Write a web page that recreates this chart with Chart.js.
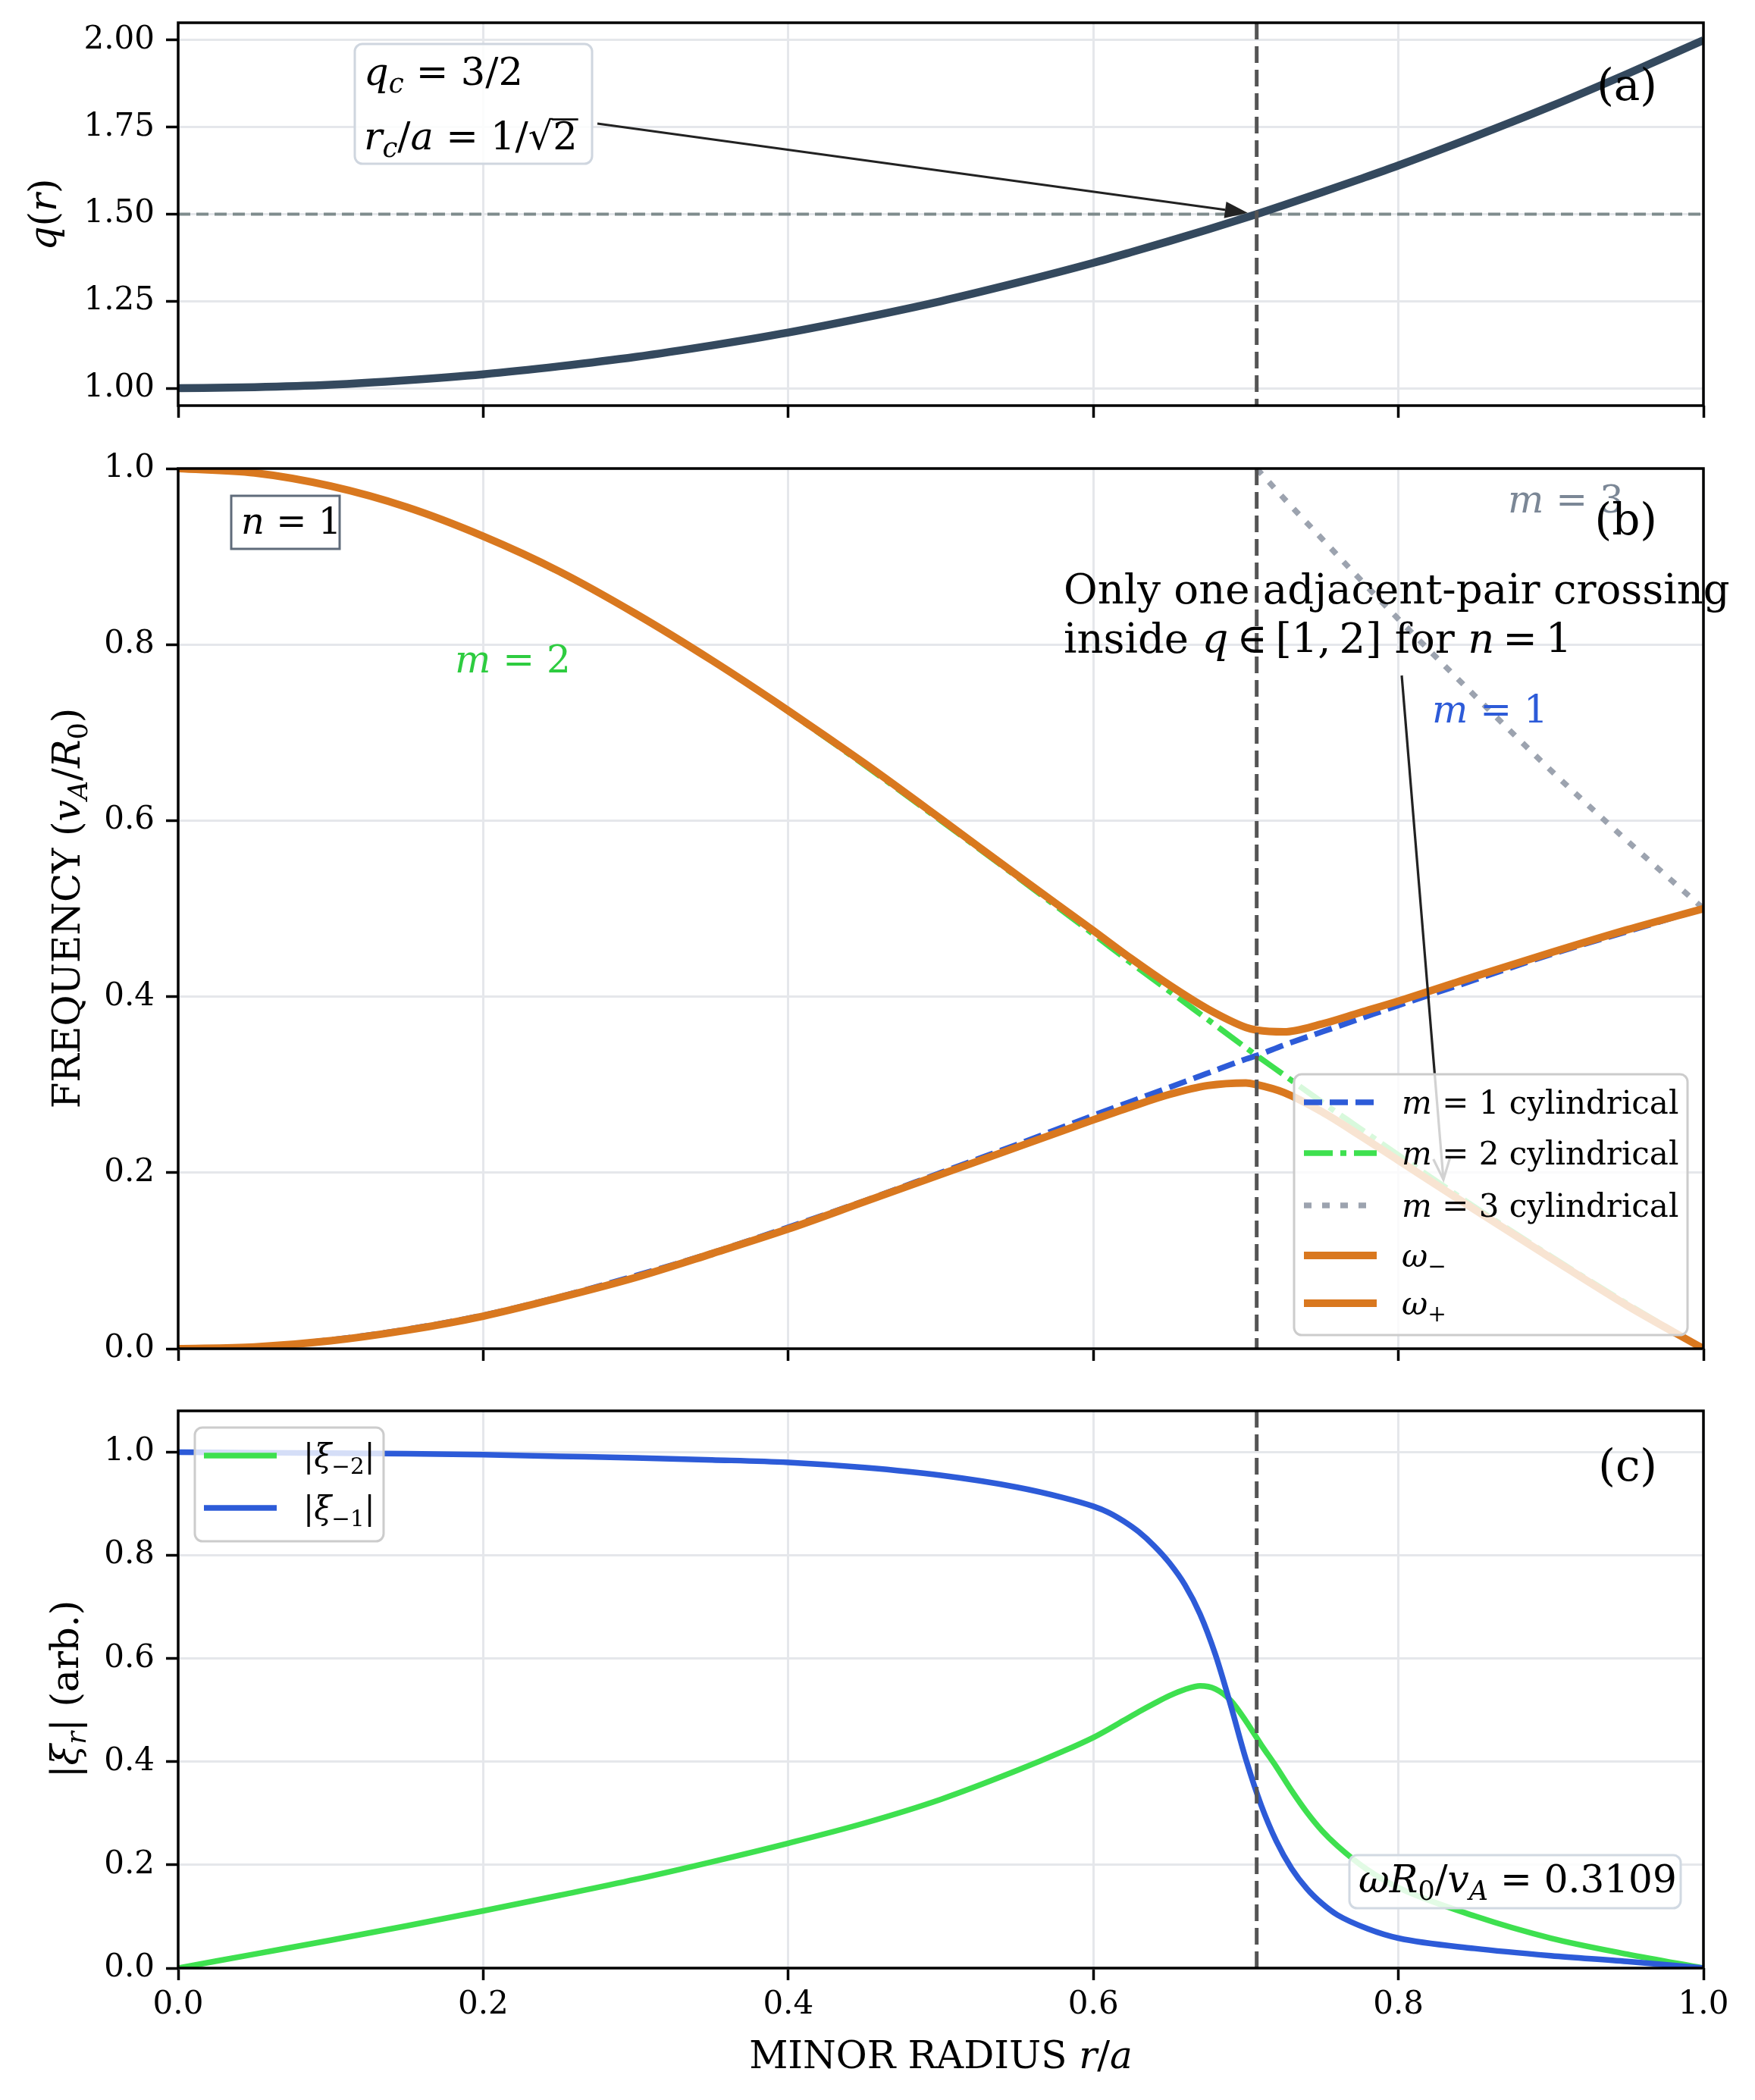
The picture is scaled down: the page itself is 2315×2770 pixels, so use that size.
<!DOCTYPE html>
<html>
<head>
<meta charset="utf-8">
<script src="https://cdn.jsdelivr.net/npm/chart.js@4.4.1/dist/chart.umd.min.js"></script>
<style>
  html, body { margin: 0; padding: 0; background: #fff; }
  #page { position: relative; width: 2315px; height: 2770px; }
  .panel { position: absolute; left: 0; width: 2315px; }
</style>
</head>
<body>
<div id="page">
  <div class="panel" style="top:0;height:560px"><canvas id="chartQ"></canvas></div>
  <div class="panel" style="top:560px;height:1240px"><canvas id="chartFreq"></canvas></div>
  <div class="panel" style="top:1800px;height:970px"><canvas id="chartXi"></canvas></div>
</div>
<script>
// ---- data ----
const radius = [0, 0.05, 0.1, 0.15, 0.2, 0.25, 0.3, 0.35, 0.4, 0.45, 0.5, 0.55, 0.6, 0.625, 0.65, 0.675, 0.7, 0.7071, 0.725, 0.75, 0.775, 0.8, 0.85, 0.9, 0.95, 1.0];
const qProfile = [1.000, 1.003, 1.010, 1.023, 1.040, 1.063, 1.090, 1.123, 1.160, 1.203, 1.250, 1.303, 1.360, 1.391, 1.423, 1.456, 1.490, 1.500, 1.526, 1.563, 1.601, 1.640, 1.723, 1.810, 1.903, 2.000];
const freqM1 = [0.000, 0.002, 0.010, 0.022, 0.038, 0.059, 0.083, 0.109, 0.138, 0.168, 0.200, 0.232, 0.265, 0.281, 0.297, 0.313, 0.329, 0.333, 0.345, 0.360, 0.375, 0.390, 0.419, 0.448, 0.474, 0.500];
const freqM2 = [1.000, 0.995, 0.980, 0.956, 0.923, 0.882, 0.835, 0.782, 0.724, 0.663, 0.600, 0.536, 0.471, 0.438, 0.406, 0.374, 0.342, 0.333, 0.311, 0.280, 0.250, 0.220, 0.161, 0.105, 0.051, 0.000];
const freqM3 = [null, null, null, null, null, null, null, null, null, null, null, null, null, null, null, null, null, 1.000, 0.966, 0.920, 0.874, 0.829, 0.742, 0.657, 0.577, 0.500];
const omegaPlus = [1.000, 0.995, 0.980, 0.956, 0.923, 0.883, 0.835, 0.782, 0.725, 0.665, 0.602, 0.538, 0.475, 0.443, 0.413, 0.386, 0.365, 0.362, 0.360, 0.369, 0.382, 0.395, 0.423, 0.450, 0.476, 0.500];
const omegaMinus = [0.000, 0.002, 0.009, 0.021, 0.037, 0.058, 0.081, 0.108, 0.136, 0.167, 0.198, 0.229, 0.260, 0.275, 0.289, 0.299, 0.302, 0.300, 0.291, 0.269, 0.242, 0.214, 0.158, 0.103, 0.049, 0.000];

const xiRadius = [0, 0.05, 0.1, 0.15, 0.2, 0.25, 0.3, 0.35, 0.4, 0.45, 0.5, 0.55, 0.58, 0.6, 0.61, 0.62, 0.63, 0.64, 0.65, 0.66, 0.67, 0.68, 0.69, 0.7, 0.71, 0.72, 0.73, 0.74, 0.75, 0.76, 0.78, 0.8, 0.85, 0.9, 0.95, 1.0];
const xiMinus2 = [0.000, 0.027, 0.054, 0.082, 0.111, 0.141, 0.172, 0.206, 0.242, 0.281, 0.327, 0.383, 0.420, 0.447, 0.463, 0.480, 0.497, 0.513, 0.528, 0.540, 0.547, 0.541, 0.519, 0.479, 0.433, 0.390, 0.344, 0.302, 0.266, 0.237, 0.190, 0.156, 0.101, 0.058, 0.027, 0.000];
const xiMinus1 = [1.000, 0.999, 0.998, 0.997, 0.995, 0.992, 0.989, 0.985, 0.980, 0.970, 0.955, 0.932, 0.912, 0.895, 0.883, 0.866, 0.845, 0.818, 0.785, 0.743, 0.686, 0.608, 0.510, 0.405, 0.316, 0.246, 0.193, 0.154, 0.125, 0.103, 0.076, 0.058, 0.038, 0.024, 0.013, 0.000];

const radiusTicks = [0, 0.2, 0.4, 0.6, 0.8, 1.0];
const qTicks = [1.0, 1.25, 1.5, 1.75, 2.0];
const freqTicks = [0, 0.2, 0.4, 0.6, 0.8, 1.0];
const xiTicks = [0, 0.2, 0.4, 0.6, 0.8, 1.0];

const criticalRadius = 0.7071;
const criticalQ = 1.5;
const eigenFreq = '0.3109';

// ---- styling ----
const SERIF = '"DejaVu Serif", serif';
const GRID = '#e5e7eb';
const ORANGE = '#d9781f', BLUE = '#2d5bd8', GREEN = '#3ee04f', GREY = '#9ca3af', NAVY = '#34495e';
const THIN = '\u2009';
Chart.defaults.font.family = SERIF;
Chart.defaults.color = '#000';

function pts(xs, ys) {
  const out = [];
  xs.forEach((x, i) => { if (ys[i] !== null) out.push({ x: x, y: ys[i] }); });
  return out;
}

function line(label, xs, ys, color, width, dash, order, legendText) {
  return {
    label, data: pts(xs, ys), borderColor: color, borderWidth: width, borderDash: dash || [],
    pointRadius: 0, fill: false, cubicInterpolationMode: 'monotone', borderJoinStyle: 'round',
    order, legendText
  };
}

function xAxis(showLabels, height) {
  return {
    type: 'linear', min: 0, max: 1,
    afterBuildTicks: s => { s.ticks = radiusTicks.map(v => ({ value: v })); },
    afterFit: s => { s.height = height; s.paddingLeft = 0; s.paddingRight = 0; },
    grid: { color: GRID, lineWidth: 3, tickColor: '#000', tickWidth: 3.5, tickLength: 16 },
    border: { display: false },
    ticks: { display: showLabels, padding: 8, font: { size: 42 }, callback: v => v.toFixed(1) }
  };
}

function yAxis(min, max, ticks, digits) {
  return {
    type: 'linear', min, max,
    afterBuildTicks: s => { s.ticks = ticks.map(v => ({ value: v })); },
    afterFit: s => { s.width = 235; s.paddingTop = 0; s.paddingBottom = 0; },
    grid: { color: GRID, lineWidth: 3, tickColor: '#000', tickWidth: 3.5, tickLength: 16 },
    border: { display: false },
    ticks: { padding: 15, font: { size: 42 }, callback: v => v.toFixed(digits) }
  };
}

// rich text: segments [text, style] where style has i (italic), s (subscript), b (overbar)
function segFont(st, size) {
  const s = st.includes('s') ? size * 0.7 : size;
  return (st.includes('i') ? 'italic ' : '') + s.toFixed(1) + 'px ' + SERIF;
}
function richWidth(ctx, segs, size) {
  let w = 0;
  for (const [t, st = ''] of segs) { ctx.font = segFont(st, size); w += ctx.measureText(t).width; }
  return w;
}
function drawRich(ctx, segs, x, y, size, color, align) {
  const w = richWidth(ctx, segs, size);
  let cx = align === 'center' ? x - w / 2 : align === 'right' ? x - w : x;
  ctx.save();
  ctx.fillStyle = color || '#000';
  ctx.textAlign = 'left';
  ctx.textBaseline = 'alphabetic';
  for (const [t, st = ''] of segs) {
    ctx.font = segFont(st, size);
    const dy = st.includes('s') ? size * 0.2 : 0;
    ctx.fillText(t, cx, y + dy);
    const sw = ctx.measureText(t).width;
    if (st.includes('b')) ctx.fillRect(cx - 1, y - size * 0.8, sw + 2, size * 0.05);
    cx += sw;
  }
  ctx.restore();
}
function drawRotated(ctx, segs, x, y, size) {
  ctx.save();
  ctx.translate(x, y);
  ctx.rotate(-Math.PI / 2);
  drawRich(ctx, segs, 0, 0, size, '#000', 'center');
  ctx.restore();
}

function roundBox(ctx, x, y, w, h, r, fill, stroke, lw) {
  ctx.save();
  ctx.beginPath();
  ctx.roundRect(x, y, w, h, r);
  ctx.fillStyle = fill; ctx.fill();
  ctx.strokeStyle = stroke; ctx.lineWidth = lw || 3; ctx.setLineDash([]); ctx.stroke();
  ctx.restore();
}

function frame(ctx, ca) {
  ctx.save();
  ctx.strokeStyle = '#000'; ctx.lineWidth = 3.5; ctx.setLineDash([]);
  ctx.strokeRect(ca.left, ca.top, ca.right - ca.left, ca.bottom - ca.top);
  ctx.restore();
}

function vline(ctx, c) {
  const x = c.scales.x.getPixelForValue(criticalRadius), ca = c.chartArea;
  ctx.save();
  ctx.strokeStyle = '#555'; ctx.lineWidth = 5; ctx.setLineDash([22, 9]);
  ctx.beginPath(); ctx.moveTo(x, ca.top); ctx.lineTo(x, ca.bottom); ctx.stroke();
  ctx.restore();
}

function arrow(ctx, x0, y0, x1, y1, filled, shrink) {
  const ang = Math.atan2(y1 - y0, x1 - x0);
  x1 -= shrink * Math.cos(ang); y1 -= shrink * Math.sin(ang);
  const L = filled ? 30 : 28, W = 22;
  const bx = x1 - L * Math.cos(ang), by = y1 - L * Math.sin(ang);
  const px = -Math.sin(ang) * W / 2, py = Math.cos(ang) * W / 2;
  ctx.save();
  ctx.strokeStyle = ctx.fillStyle = '#222'; ctx.lineWidth = 3.2; ctx.setLineDash([]);
  ctx.beginPath(); ctx.moveTo(x0, y0); ctx.lineTo(filled ? bx : x1, filled ? by : y1); ctx.stroke();
  ctx.beginPath(); ctx.moveTo(bx + px, by + py); ctx.lineTo(x1, y1); ctx.lineTo(bx - px, by - py);
  if (filled) { ctx.closePath(); ctx.fill(); } else ctx.stroke();
  ctx.restore();
}

function legend(ctx, c, box, rowsY, hx0, hx1, tx, size) {
  roundBox(ctx, box[0], box[1], box[2], box[3], 10, 'rgba(255,255,255,0.8)', '#cccccc', 3);
  c.data.datasets.forEach((ds, i) => {
    const y = rowsY[i];
    ctx.save();
    ctx.strokeStyle = ds.borderColor; ctx.lineWidth = ds.borderWidth; ctx.setLineDash(ds.borderDash || []);
    ctx.beginPath(); ctx.moveTo(hx0, y); ctx.lineTo(hx1, y); ctx.stroke();
    ctx.restore();
    drawRich(ctx, ds.legendText, tx, y + size * 0.36, size, '#000');
  });
}

function makeChart(id, canvasTop, padTop, xHeight, showX, yCfg, datasets, hooks) {
  const Y = v => v - canvasTop;
  return new Chart(document.getElementById(id), {
    type: 'line',
    data: { datasets },
    options: {
      responsive: true, maintainAspectRatio: false, animation: false, devicePixelRatio: 1, events: [],
      layout: { padding: { top: padTop, right: 68, left: 0, bottom: 0 } },
      plugins: { legend: { display: false }, tooltip: { enabled: false } },
      scales: { x: xAxis(showX, xHeight), y: yCfg }
    },
    plugins: [{
      id: 'overlay',
      beforeDatasetsDraw: c => { if (hooks.before) hooks.before(c, c.ctx, Y); },
      afterDatasetsDraw: c => hooks.after(c, c.ctx, Y)
    }]
  });
}

// ---- (a) safety factor ----
makeChart('chartQ', 0, 30, 25, false, yAxis(0.95, 2.05, qTicks, 2),
  [line('q(r)', radius, qProfile, NAVY, 10.5, null, 0, [])],
  {
    before(c, ctx) {
      const y = c.scales.y.getPixelForValue(criticalQ), ca = c.chartArea;
      ctx.save();
      ctx.strokeStyle = '#7f8c8d'; ctx.lineWidth = 4; ctx.setLineDash([16, 8]);
      ctx.beginPath(); ctx.moveTo(ca.left, y); ctx.lineTo(ca.right, y); ctx.stroke();
      ctx.restore();
    },
    after(c, ctx, Y) {
      vline(ctx, c);
      frame(ctx, c.chartArea);
      roundBox(ctx, 468, Y(58), 313, 158, 10, 'rgba(255,255,255,0.85)', '#cfd6df', 3);
      drawRich(ctx, [['q', 'i'], ['c', 'is'], [' = 3/2']], 480, Y(112), 51);
      drawRich(ctx, [['r', 'i'], ['c', 'is'], ['/'], ['a', 'i'], [' = 1/'], ['√'], ['2', 'b']], 480, Y(197), 51);
      arrow(ctx, 788, Y(163), c.scales.x.getPixelForValue(criticalRadius), c.scales.y.getPixelForValue(criticalQ), true, 12);
      drawRich(ctx, [['(a)']], 2186, Y(132), 58, '#000', 'right');
      drawRotated(ctx, [['q', 'i'], ['('], ['r', 'i'], [')']], 74, Y(283), 50);
    }
  });

// ---- (b) continuum frequencies ----
makeChart('chartFreq', 560, 58, 21, false, yAxis(0, 1, freqTicks, 1),
  [
    line('m=1 cylindrical', radius, freqM1, BLUE, 7.5, [24, 10], 5, [['m', 'i'], [' = 1 cylindrical']]),
    line('m=2 cylindrical', radius, freqM2, GREEN, 7.5, [38, 10, 8, 10], 4, [['m', 'i'], [' = 2 cylindrical']]),
    line('m=3 cylindrical', radius, freqM3, GREY, 7.5, [10, 14], 3, [['m', 'i'], [' = 3 cylindrical']]),
    line('omega-', radius, omegaMinus, ORANGE, 10, null, 2, [['ω', 'i'], ['−', 's']]),
    line('omega+', radius, omegaPlus, ORANGE, 10, null, 1, [['ω', 'i'], ['+', 's']])
  ],
  {
    after(c, ctx, Y) {
      vline(ctx, c);
      frame(ctx, c.chartArea);
      ctx.save();
      ctx.fillStyle = '#fff'; ctx.fillRect(305, Y(654), 143, 70);
      ctx.strokeStyle = '#5f6b7a'; ctx.lineWidth = 3; ctx.strokeRect(305, Y(654), 143, 70);
      ctx.restore();
      drawRich(ctx, [['n', 'i'], [' = 1']], 318, Y(704), 48);
      drawRich(ctx, [['m', 'i'], [' = 2']], 600, Y(887), 50, '#2ecc40');
      drawRich(ctx, [['m', 'i'], [' = 1']], 1889, Y(953), 50, BLUE);
      drawRich(ctx, [['m', 'i'], [' = 3']], 1989, Y(676), 50, '#7b8796');
      drawRich(ctx, [['(b)']], 2186, Y(705), 58, '#000', 'right');
      drawRich(ctx, [['Only one adjacent-pair crossing']], 1403, Y(796), 54.5);
      drawRich(ctx, [['inside '], ['q', 'i'], [THIN + '∈' + THIN + '[1,' + THIN + '2] for '], ['n', 'i'], [THIN + '=' + THIN + '1']], 1403, Y(861), 54.5);
      arrow(ctx, 1849, Y(891), 1904, Y(1556), false, 0);
      legend(ctx, c, [1707, Y(1417), 519, 344], [Y(1454), Y(1521), Y(1590), Y(1656), Y(1719)], 1720, 1816, 1849, 42);
      drawRotated(ctx, [['FREQUENCY ('], ['v', 'i'], ['A', 'is'], ['/'], ['R', 'i'], ['0', 's'], [')']], 105, Y(1198), 50);
    }
  });

// ---- (c) eigenfunction ----
makeChart('chartXi', 1800, 61, 174, true, yAxis(0, 1.08, xiTicks, 1),
  [
    line('xi-2', xiRadius, xiMinus2, GREEN, 7.5, null, 2, [['|'], ['ξ', 'i'], ['−2', 's'], ['|']]),
    line('xi-1', xiRadius, xiMinus1, BLUE, 7.5, null, 1, [['|'], ['ξ', 'i'], ['−1', 's'], ['|']])
  ],
  {
    after(c, ctx, Y) {
      vline(ctx, c);
      frame(ctx, c.chartArea);
      roundBox(ctx, 1780, Y(2447), 437, 70, 10, 'rgba(255,255,255,0.85)', '#d1d9e2', 3);
      drawRich(ctx, [['ω', 'i'], ['R', 'i'], ['0', 's'], ['/'], ['v', 'i'], ['A', 'is'], [' = ' + eigenFreq]], 1792, Y(2496), 50);
      drawRich(ctx, [['(c)']], 2186, Y(1953), 58, '#000', 'right');
      legend(ctx, c, [257, Y(1883), 249, 150], [Y(1920), Y(1989)], 269, 365, 400, 42);
      drawRich(ctx, [['MINOR RADIUS '], ['r', 'i'], ['/'], ['a', 'i']], 1241, Y(2728), 50, '#000', 'center');
      drawRotated(ctx, [['|'], ['ξ', 'i'], ['r', 'is'], ['|'], [' (arb.)']], 103, Y(2228), 50);
    }
  });
</script>
</body>
</html>
